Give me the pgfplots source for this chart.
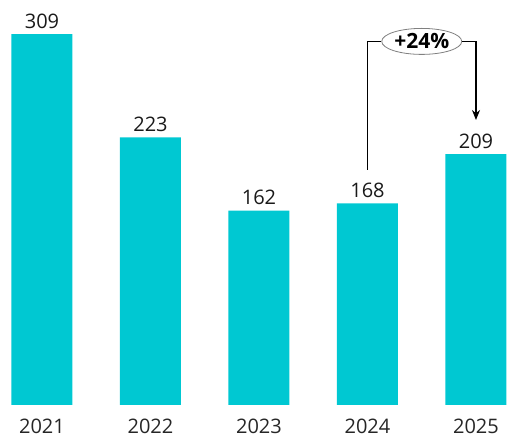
\documentclass[border=0pt]{standalone}
\usepackage{pgfplots}
\pgfplotsset{compat=1.18}
\usepackage{fontspec}
\setmainfont{Open Sans}
\usetikzlibrary{arrows.meta,shapes.geometric}
\definecolor{barcol}{RGB}{0,200,210}
\begin{document}
\begin{tikzpicture}
\path[use as bounding box] (0,-36bp) rectangle (512bp,405bp);
\begin{axis}[
  scale only axis,
  width=512bp, height=405bp,
  xmin=-0.387, xmax=4.332,
  ymin=0, ymax=337.5,
  axis line style={draw=none},
  tick style={draw=none},
  ytick=\empty,
  xtick={0,1,2,3,4},
  xticklabels={2021,2022,2023,2024,2025},
  /pgf/number format/assume math mode=true,
  xticklabel style={anchor=base, yshift=-24.5bp, font=\fontsize{20bp}{22bp}\selectfont, text=black!85},
  ybar, bar width=61bp,
  nodes near coords,
  nodes near coords style={anchor=base, yshift=6bp, font=\fontsize{20bp}{22bp}\selectfont, text=black!90},
  clip=false,
]
\addplot[fill=barcol, draw=none] coordinates {(0,309) (1,223) (2,162) (3,168) (4,209)};
\node[ellipse, draw=gray, line width=0.8bp, fill=white, inner sep=0pt, minimum width=80bp, minimum height=26bp, font=\bfseries\fontsize{21bp}{23bp}\selectfont] (pct) at (axis cs:3.5,303) {+24\%};
\draw[line width=1.2bp] (axis cs:3,196) |- (pct.west);
\draw[line width=1.2bp, -{Stealth[length=10bp,width=8bp]}] (pct.east) -| (axis cs:4,237.5);
\end{axis}
\end{tikzpicture}
\end{document}
